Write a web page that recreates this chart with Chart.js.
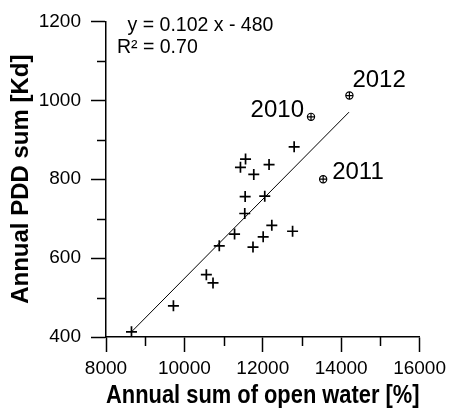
<!DOCTYPE html>
<html><head><meta charset="utf-8">
<script src="https://cdn.jsdelivr.net/npm/chart.js@4/dist/chart.umd.min.js"></script>
<style>html,body{margin:0;padding:0;background:#fff}#wrap{width:451px;height:411px}</style>
</head><body><div id="wrap"><canvas id="c" width="451" height="411"></canvas></div>
<script>
// Data
const openWater = [8650, 9720, 10560, 10730, 10890, 11280, 11540, 11550, 11430, 11560, 11770, 12160, 12050, 11750, 12010, 12230, 12760, 12800];
const pddSum    = [413, 479, 558, 537, 631, 661, 713, 756, 830, 851, 812, 837, 757, 628, 654, 683, 668, 882];
const yearLabels    = ['2010', '2011', '2012'];
const yearOpenWater = [13230, 13540, 14210];
const yearPdd       = [958, 800, 1012];
const fitX = [8650, 14200];
const fitY = [413, 970];
const equationText = 'y = 0.102 x - 480';
const r2Text = 'R² = 0.70';
const xMajor = [8000, 10000, 12000, 14000, 16000];
const xMinor = [9000, 11000, 13000, 15000];
const yMajor = [400, 600, 800, 1000, 1200];
const yMinor = [500, 700, 900, 1100];

const FONT = '"Liberation Sans", Arial, sans-serif';
const toPts = (xs, ys) => xs.map((x, i) => ({x: x, y: ys[i]}));

const extras = {
  id: 'extras',
  afterDraw(chart) {
    const ctx = chart.ctx, xs = chart.scales.x, ys = chart.scales.y;
    ctx.save();
    ctx.strokeStyle = '#000'; ctx.lineWidth = 1.5;
    xMinor.forEach(v => { const p = Math.round(xs.getPixelForValue(v)) + 0.5; ctx.beginPath(); ctx.moveTo(p, ys.bottom); ctx.lineTo(p, ys.bottom + 9); ctx.stroke(); });
    yMinor.forEach(v => { const p = Math.round(ys.getPixelForValue(v)) + 0.5; ctx.beginPath(); ctx.moveTo(xs.left - 9, p); ctx.lineTo(xs.left, p); ctx.stroke(); });
    ctx.fillStyle = '#000';
    ctx.textBaseline = 'alphabetic';
    ctx.font = '19.5px ' + FONT;
    ctx.textAlign = 'left';
    ctx.fillText(equationText, xs.getPixelForValue(8550), ys.getPixelForValue(1175));
    ctx.fillText(r2Text, xs.getPixelForValue(8280), ys.getPixelForValue(1119));
    ctx.font = '24px ' + FONT;
    const offs = [[-7, 0, 'right'], [9, 0, 'left'], [3, -9, 'left']];
    yearLabels.forEach((t, i) => {
      const px = xs.getPixelForValue(yearOpenWater[i]), py = ys.getPixelForValue(yearPdd[i]);
      ctx.textAlign = offs[i][2];
      ctx.fillText(t, px + offs[i][0], py + offs[i][1]);
    });
    ctx.restore();
  }
};

new Chart(document.getElementById('c'), {
  type: 'scatter',
  data: {
    datasets: [
      { data: toPts(fitX, fitY), type: 'line', showLine: true, pointRadius: 0, borderColor: '#000', borderWidth: 1, fill: false },
      { data: toPts(openWater, pddSum), pointStyle: 'cross', pointRadius: 5.5, borderColor: '#000', borderWidth: 1.7 },
      { data: toPts(yearOpenWater, yearPdd), pointStyle: 'cross', pointRadius: 3.6, borderColor: '#000', borderWidth: 1.2 },
      { data: toPts(yearOpenWater, yearPdd), pointStyle: 'circle', pointRadius: 3.6, borderColor: '#000', backgroundColor: '#fff', borderWidth: 1.2 }
    ]
  },
  options: {
    responsive: false, animation: false, devicePixelRatio: 1,
    layout: { padding: { top: 20, right: 27, left: 0, bottom: 0 } },
    plugins: { legend: { display: false }, tooltip: { enabled: false } },
    scales: {
      x: {
        type: 'linear', min: 8000, max: 16000,
        afterBuildTicks: s => { s.ticks = xMajor.map(v => ({value: v})); },
        afterFit: s => { s.height = 74; },
        ticks: { font: { size: 19, family: FONT }, color: '#000', padding: 5, maxRotation: 0, callback: v => String(v) },
        grid: { drawOnChartArea: false, tickLength: 15, tickColor: '#000', tickWidth: 1.5 },
        border: { color: '#000', width: 1.5 },
        title: { display: true, text: 'Annual sum of open water [%]', color: '#000', font: { size: 25, weight: 'bold', family: FONT }, padding: { top: 0, bottom: 0 } }
      },
      y: {
        type: 'linear', min: 400, max: 1200,
        afterBuildTicks: s => { s.ticks = yMajor.map(v => ({value: v})); },
        afterFit: s => { s.width = 106; },
        ticks: { font: { size: 19, family: FONT }, color: '#000', padding: 10, callback: v => String(v) },
        grid: { drawOnChartArea: false, tickLength: 15, tickColor: '#000', tickWidth: 1.5 },
        border: { color: '#000', width: 1.5 },
        title: { display: true, text: 'Annual PDD sum [Kd]', color: '#000', font: { size: 24, weight: 'bold', family: FONT }, padding: { top: 7, bottom: 0 } }
      }
    }
  },
  plugins: [extras]
});
</script></body></html>
